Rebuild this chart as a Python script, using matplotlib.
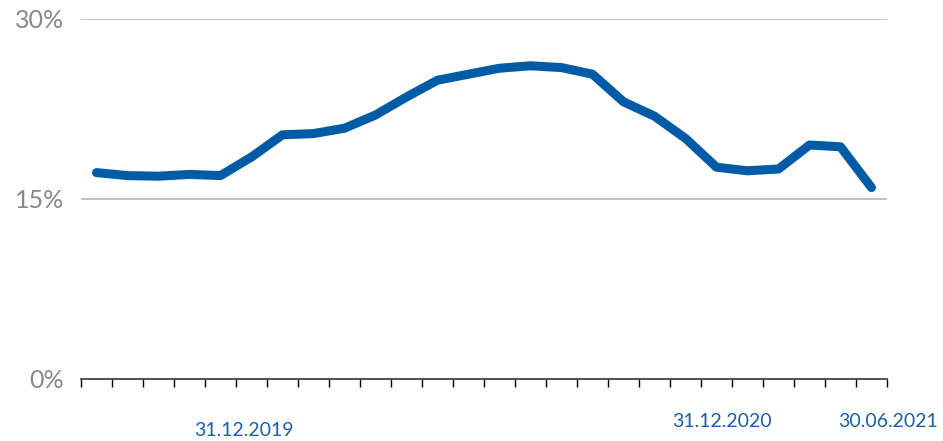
import numpy as np
import matplotlib
matplotlib.use("Agg")
import matplotlib.pyplot as plt

# share values, in %
values = [17.2, 16.95, 16.9, 17.05, 16.95, 18.5, 20.35, 20.45, 20.9, 22.0,
          23.5, 24.9, 25.4, 25.9, 26.1, 25.95, 25.4, 23.1, 21.9, 20.05,
          17.65, 17.35, 17.5, 19.5, 19.35, 15.95]
date_labels = ["31.12.2019", "31.12.2020", "30.06.2021"]
date_pos = [4.76, 20.18, 25.53]
date_y = [-0.142, -0.119, -0.119]
yticks = [0, 15, 30]

blue = "#005ba6"
grey = "#888888"

plt.rcParams['font.family'] = ['Lato', 'DejaVu Sans']

fig = plt.figure(figsize=(9.43, 4.41), dpi=100)
ax = fig.add_axes([81/943, 62/441, 806/943, 360/441])

x = np.arange(len(values))
ax.plot(x, values, color=blue, lw=6.5, solid_capstyle='round', zorder=3)

for v in yticks[1:]:
    ax.axhline(v, color="#b5b5b5", lw=1.2, zorder=1)

ax.set_xlim(-0.5, len(values) - 0.5)
ax.set_ylim(0, 30)
ax.set_xticks(np.arange(len(values) + 1) - 0.5)
ax.set_xticklabels([])
ax.tick_params(axis='x', direction='out', length=6, width=1, color='black')

ax.set_yticks(yticks)
ax.set_yticklabels([f"{v}%" for v in yticks], color=grey, fontsize=18)
ax.tick_params(axis='y', length=0, pad=12)

for s in ['left', 'right', 'top']:
    ax.spines[s].set_visible(False)
ax.spines['bottom'].set_linewidth(1.2)
ax.spines['bottom'].set_color('#333333')

for lab, xp, yp in zip(date_labels, date_pos, date_y):
    ax.text(xp, yp, lab, transform=ax.get_xaxis_transform(), ha='center',
            va='center', color="#1a5fa8", fontsize=14, clip_on=False)

fig.savefig("out.png", dpi=100)
